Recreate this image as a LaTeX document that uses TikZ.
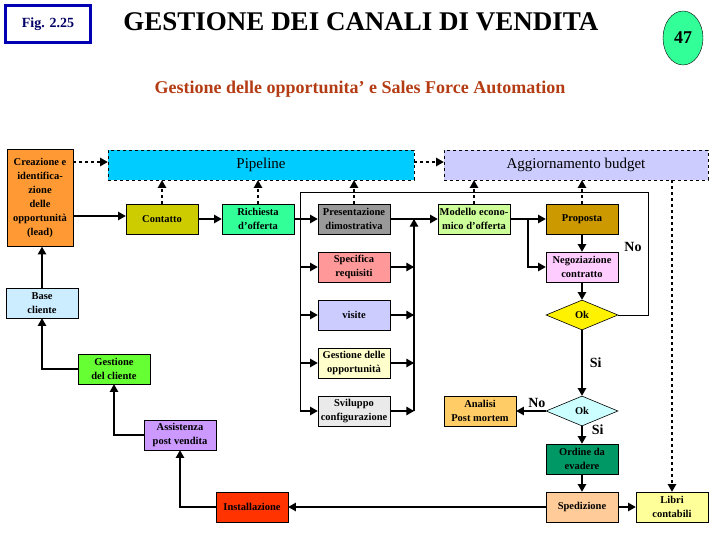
\documentclass[tikz,border=0pt]{standalone}
\usepackage{fontspec}
\setmainfont{Liberation Serif}
\usetikzlibrary{shapes,arrows}
\usetikzlibrary{calc}
\definecolor{pipecol}{RGB}{0,204,255}
\definecolor{budgcol}{RGB}{204,204,255}
\definecolor{leadcol}{RGB}{255,153,51}
\definecolor{contcol}{RGB}{204,204,0}
\definecolor{richcol}{RGB}{51,255,153}
\definecolor{prescol}{RGB}{153,153,153}
\definecolor{speccol}{RGB}{255,153,153}
\definecolor{visicol}{RGB}{204,204,255}
\definecolor{gestcol}{RGB}{255,255,204}
\definecolor{svilcol}{RGB}{234,234,234}
\definecolor{modecol}{RGB}{204,255,153}
\definecolor{propcol}{RGB}{204,153,0}
\definecolor{negocol}{RGB}{255,204,255}
\definecolor{ok2col}{RGB}{204,255,255}
\definecolor{analcol}{RGB}{255,204,102}
\definecolor{ordicol}{RGB}{0,153,102}
\definecolor{spedcol}{RGB}{255,204,153}
\definecolor{libricol}{RGB}{255,255,153}
\definecolor{basecol}{RGB}{204,236,255}
\definecolor{gclicol}{RGB}{102,255,51}
\definecolor{assicol}{RGB}{204,153,255}
\definecolor{instcol}{RGB}{255,51,0}
\definecolor{subcol}{RGB}{180,60,20}

\begin{document}
\begin{tikzpicture}[x=1pt,y=-1pt]

\tikzstyle{box} = [draw, font=\bfseries\fontsize{10.5}{14}\selectfont, align=center,
inner sep=1, minimum width=72, minimum height=30, line width=0.6]
\tikzstyle{band} = [draw, dashed, font=\fontsize{15}{17}\selectfont, minimum height=30, line width=0.6]
\tikzstyle{okd} = [draw, diamond, aspect=2.4, font=\bfseries\fontsize{10.5}{12}\selectfont,
inner sep=1, minimum width=72, minimum height=30, line width=0.6]
\tikzstyle{flow} = [-triangle 60, line width=1.1]
\tikzstyle{link} = [-triangle 60, line width=1.1, dashed]
\tikzstyle{thin} = [line width=0.8]
\tikzstyle{lbl} = [font=\bfseries\fontsize{14}{16}\selectfont]

\useasboundingbox (0,0) rectangle (720,540);

% header
\node [draw=blue!70!black, line width=2.5, minimum width=85, minimum height=37,
 font=\bfseries\fontsize{14}{16}\selectfont\color{blue!40!black}] (fig) at (48,24) {Fig. 2.25};
\node [font=\bfseries\fontsize{27}{30}\selectfont] (title) at (361,22) {GESTIONE DEI CANALI DI VENDITA};
\node [draw, ellipse, fill=richcol, minimum width=40, minimum height=54,
 font=\bfseries\fontsize{18}{20}\selectfont] (pag) at (683,38) {47};
\node [font=\bfseries\fontsize{18}{20}\selectfont, text=subcol] (sub) at (360,89)
 {Gestione delle opportunita' e Sales Force Automation};

% bands
\node [band, fill=pipecol, minimum width=306] (pipe) at (261,165) {Pipeline};
\node [band, fill=budgcol, minimum width=264] (budget) at (576,165) {Aggiornamento budget};

% boxes
\node [box, fill=leadcol, minimum width=66, minimum height=97] (lead) at (40,198)
 {Creazione e\\identifica-\\zione\\delle\\opportunità\\(lead)};
\node [box, fill=contcol] (cont) at (162,219) {Contatto};
\node [box, fill=richcol] (rich) at (258,219) {Richiesta\\d'offerta};
\node [box, fill=prescol] (pres) at (354,219) {Presentazione\\dimostrativa};
\node [box, fill=speccol] (spec) at (354,267) {Specifica\\requisiti};
\node [box, fill=visicol] (visi) at (354,315) {visite};
\node [box, fill=gestcol] (gest) at (354,363) {Gestione delle\\opportunità};
\node [box, fill=svilcol] (svil) at (354,411) {Sviluppo\\configurazione};
\node [box, fill=modecol] (mode) at (474,219) {Modello econo-\\mico d'offerta};
\node [box, fill=propcol] (prop) at (582,219) {Proposta};
\node [box, fill=negocol] (nego) at (582,267) {Negoziazione\\contratto};
\node [okd, fill=yellow] (ok1) at (582,315) {Ok};
\node [okd, fill=ok2col] (ok2) at (582,411) {Ok};
\node [box, fill=analcol] (anal) at (480,411) {Analisi\\Post mortem};
\node [box, fill=ordicol] (ordi) at (582,459) {Ordine da\\evadere};
\node [box, fill=spedcol] (sped) at (582,507) {Spedizione};
\node [box, fill=libricol] (libri) at (672,507) {Libri\\contabili};
\node [box, fill=instcol] (inst) at (252,507) {Installazione};
\node [box, fill=assicol] (assi) at (180,435) {Assistenza\\post vendita};
\node [box, fill=gclicol] (gcli) at (114,369) {Gestione\\del cliente};
\node [box, fill=basecol] (base) at (42,303) {Base\\cliente};

\coordinate (busl) at (300,192);
\coordinate (busr) at (414,219);
\coordinate (loop) at (648,192);

% dashed links
\draw [link] ($(lead.east)+(0,-36)$) -- ($(pipe.west)+(0,-3)$);
\draw [link] ($(pipe.east)+(0,-3)$) -- ($(budget.west)+(0,-3)$);
\foreach \b in {cont,rich,pres} \draw [link] (\b.north) -- (\b.north |- pipe.south);
\foreach \b in {mode,prop} \draw [link] (\b.north) -- (\b.north |- budget.south);
\draw [link] (budget.south -| libri.north) -- (libri.north);

% main flow
\draw [flow] (lead.east |- 0,216) -- (cont.west |- 0,216);
\draw [flow] (cont) -- (rich);
\draw [flow] (rich) -- (pres);
\draw [thin] (busl) -- (busl |- svil);
\foreach \b in {spec,visi,gest,svil} {
  \draw [flow] (busl |- \b) -- (\b.west);
  \draw [flow] (\b.east) -- (busr |- \b);
}
\draw [flow] (busr |- svil) -- (busr);
\draw [flow] (pres) -- (mode);
\draw [flow] (mode) -- (prop);
\draw [flow] (528,219) |- (nego.west);
\draw [flow] (prop) -- (nego);
\draw [flow] (nego) -- (ok1);
\draw [thin] (ok1.east) -| (loop) -- (busl);
\draw [flow] (ok1) -- node [lbl, right=4] {Si} (ok2);
\draw [flow] (ok2) -- node [lbl, above=-1, pos=0.3] {No} (anal);
\draw [flow] (ok2) -- node [lbl, right=6, pos=0.2] {Si} (ordi);
\draw [flow] (ordi) -- (sped);
\draw [flow] (sped) -- (libri);
\draw [flow] (sped) -- (inst);
\draw [flow] (inst.west) -| (assi.south);
\draw [flow] (assi.west) -| (gcli.south);
\draw [flow] (gcli.west) -| (base.south);
\draw [flow] (base.north) -- (base.north |- lead.south);
\node [lbl] (nolbl) at (633,247) {No};

\end{tikzpicture}
\end{document}
